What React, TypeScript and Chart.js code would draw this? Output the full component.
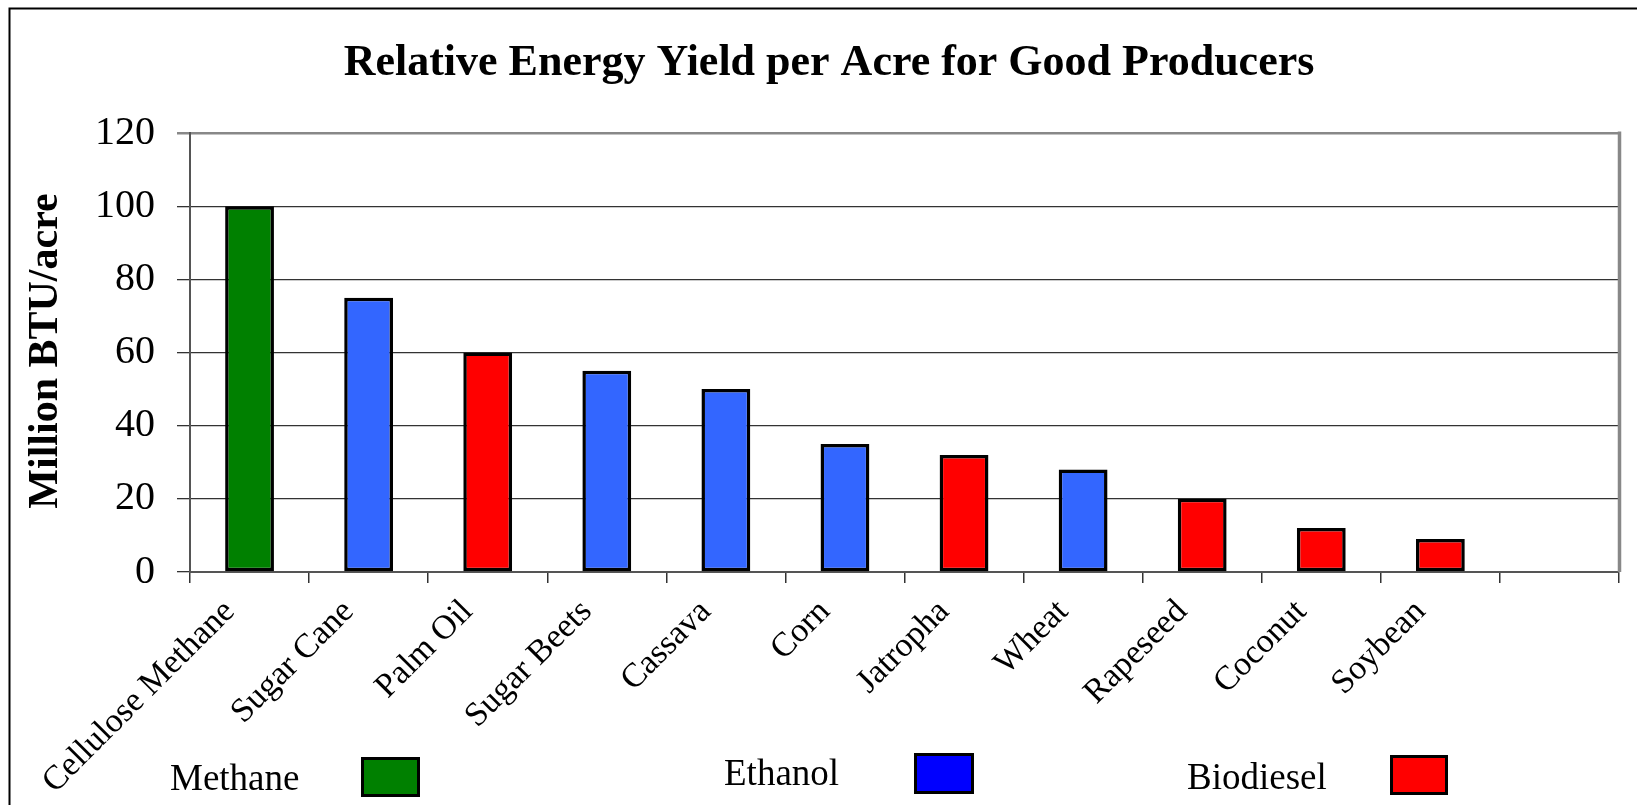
import React, { useEffect, useRef } from 'react';
import { Chart, registerables } from 'chart.js';

Chart.register(...registerables);

const categories = ['Cellulose Methane', 'Sugar Cane', 'Palm Oil', 'Sugar Beets', 'Cassava', 'Corn', 'Jatropha', 'Wheat', 'Rapeseed', 'Coconut', 'Soybean', ''];
const yieldValues = [100, 75, 60, 55, 50, 35, 32, 28, 20, 12, 9, null];
const fuelTypes = ['Methane', 'Ethanol', 'Biodiesel', 'Ethanol', 'Ethanol', 'Ethanol', 'Biodiesel', 'Ethanol', 'Biodiesel', 'Biodiesel', 'Biodiesel', ''];
const yTickValues = [0, 20, 40, 60, 80, 100, 120];
const legendLabels = ['Methane', 'Ethanol', 'Biodiesel'];
const legendColors = ['#008000', '#0000FF', '#FF0000'];
const barColorByType: Record<string, string> = { Methane: '#008000', Ethanol: '#3366FF', Biodiesel: '#FF0000', '': '#ffffff' };

const titleText = 'Relative Energy Yield per Acre for Good Producers';
const yAxisTitle = 'Million BTU/acre';

const SERIF = "'Liberation Serif', 'Times New Roman', serif";

// layout of the hand-drawn legend entries (text x, text baseline, box x, box y, box w, box h)
const legendLayout = [
  { tx: 170, ty: 790, bx: 361, by: 757, bw: 59, bh: 40 },
  { tx: 724, ty: 785, bx: 914, by: 753, bw: 60, bh: 41 },
  { tx: 1187, ty: 789, bx: 1390, by: 755, bw: 58, bh: 40 },
];

const decorPlugin = {
  id: 'decor',
  afterDraw(chart: any) {
    const ctx = chart.ctx as CanvasRenderingContext2D;
    const area = chart.chartArea;
    ctx.save();
    // outer frame (left + top)
    ctx.strokeStyle = '#000';
    ctx.lineWidth = 2;
    ctx.beginPath();
    ctx.moveTo(9.5, 805);
    ctx.lineTo(9.5, 8.5);
    ctx.lineTo(1637, 8.5);
    ctx.stroke();

    // right border of plot area
    ctx.strokeStyle = '#888';
    ctx.lineWidth = 3.5;
    ctx.beginPath();
    ctx.moveTo(area.right + 0.5, area.top - 1.5);
    ctx.lineTo(area.right + 0.5, area.bottom);
    ctx.stroke();

    // title
    ctx.fillStyle = '#000';
    ctx.font = `bold 44px ${SERIF}`;
    ctx.textAlign = 'center';
    ctx.textBaseline = 'alphabetic';
    ctx.fillText(titleText, 829, 75);

    // y axis title
    ctx.save();
    ctx.translate(57, 351);
    ctx.rotate(-Math.PI / 2);
    ctx.font = `bold 42px ${SERIF}`;
    ctx.textAlign = 'center';
    ctx.fillText(yAxisTitle, 0, 0);
    ctx.restore();

    // legend
    ctx.font = `37px ${SERIF}`;
    ctx.textAlign = 'left';
    legendLabels.forEach((label, i) => {
      const l = legendLayout[i];
      ctx.fillStyle = '#000';
      ctx.fillText(label, l.tx, l.ty);
      ctx.fillStyle = legendColors[i];
      ctx.fillRect(l.bx, l.by, l.bw, l.bh);
      ctx.strokeStyle = '#000';
      ctx.lineWidth = 3;
      ctx.strokeRect(l.bx + 1.5, l.by + 1.5, l.bw - 3, l.bh - 3);
    });
    ctx.restore();
  },
};

export default function App() {
  const canvasRef = useRef<HTMLCanvasElement | null>(null);

  useEffect(() => {
    if (!canvasRef.current) return;
    const chart = new Chart(canvasRef.current, {
      type: 'bar',
      data: {
        labels: categories,
        datasets: [
          {
            label: 'Energy yield',
            data: yieldValues,
            backgroundColor: fuelTypes.map((t) => barColorByType[t]),
            borderColor: '#000',
            borderWidth: 3.5,
            borderSkipped: false,
            categoryPercentage: 1,
            barPercentage: 0.41,
          },
        ],
      },
      options: {
        responsive: false,
        animation: false,
        events: [],
        layout: { padding: { left: 0, top: 133, right: 18, bottom: 0 } },
        plugins: {
          legend: { display: false },
          title: { display: false },
          tooltip: { enabled: false },
        },
        scales: {
          x: {
            offset: true,
            afterFit: (s: any) => {
              s.height = 233;
            },
            grid: {
              offset: true,
              drawOnChartArea: false,
              drawTicks: true,
              tickLength: 11,
              color: '#333',
              lineWidth: 1.5,
            },
            border: { display: true, color: '#555', width: 2 },
            ticks: {
              autoSkip: false,
              minRotation: 45,
              maxRotation: 45,
              padding: 9,
              labelOffset: -20,
              color: '#000',
              font: { family: SERIF, size: 34 },
            },
          },
          y: {
            min: 0,
            max: 120,
            afterFit: (s: any) => {
              s.width = 190;
            },
            afterBuildTicks: (s: any) => {
              s.ticks = yTickValues.map((v) => ({ value: v }));
            },
            grid: {
              drawTicks: true,
              tickLength: 13,
              color: (c: any) => (c.tick && c.tick.value === 120 ? '#888' : '#333'),
              lineWidth: (c: any) => (c.tick && c.tick.value === 120 ? 2.5 : 1.3),
            },
            border: { display: true, color: '#555', width: 2 },
            ticks: {
              padding: 22,
              color: '#000',
              font: { family: SERIF, size: 40 },
            },
          },
        },
      },
      plugins: [decorPlugin],
    });
    return () => chart.destroy();
  }, []);

  return (
    <div style={{ position: 'fixed', left: 0, top: 0, width: 1637, height: 805, background: '#fff' }}>
      <canvas ref={canvasRef} width={1637} height={805} style={{ display: 'block', width: 1637, height: 805 }} />
    </div>
  );
}
